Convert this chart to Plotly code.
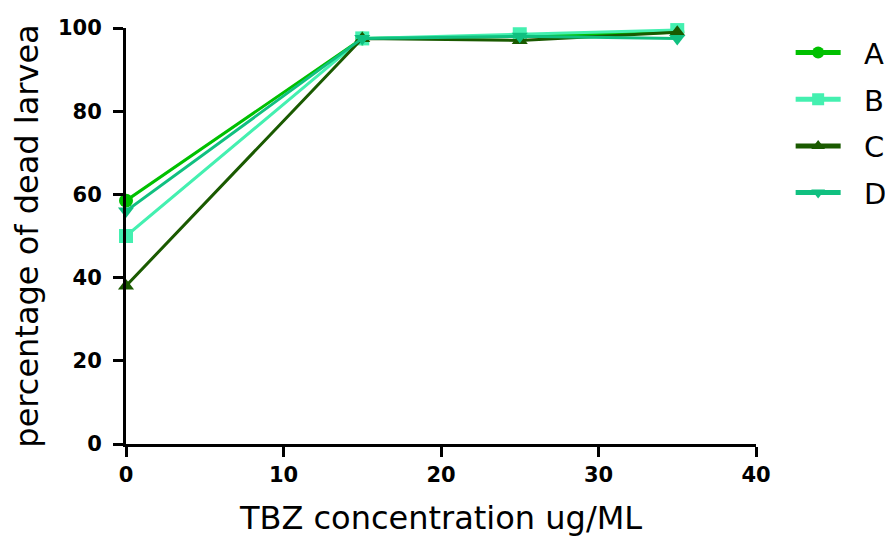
import plotly.graph_objects as go

x_vals = [0, 15, 25, 35]
series_names = ["A", "B", "C", "D"]
A = [58.5, 97.5, 98.0, 99.0]
B = [50.0, 97.5, 98.5, 99.5]
C = [38.0, 97.5, 97.0, 99.0]
D = [56.0, 97.5, 98.0, 97.5]
colors = ["#00c000", "#44f0b0", "#1a5a00", "#10c080"]
symbols = ["circle", "square", "triangle-up", "triangle-down"]

fig = go.Figure()
for name, ys, col, sym in zip(series_names, [A, B, C, D], colors, symbols):
    fig.add_trace(go.Scatter(
        x=x_vals, y=ys, name="\u00a0\u00a0" + name, mode="lines+markers", legendgroup=name,
        line=dict(color=col, width=3),
        marker=dict(symbol=sym, size=14, color=col),
        cliponaxis=False,
    ))

fig.update_layout(
    width=885, height=535,
    margin=dict(l=118, r=137, t=20, b=99, autoexpand=False),
    plot_bgcolor="white", paper_bgcolor="white",
    font=dict(family="DejaVu Sans", color="black"),
    legend=dict(x=1.055, y=1.002, xanchor="left", yanchor="top",
                font=dict(size=29), tracegroupgap=6, itemwidth=45,
                itemsizing="constant", bgcolor="rgba(0,0,0,0)"),
    showlegend=True,
)
fig.update_xaxes(
    range=[0, 40], tickvals=[0, 10, 20, 30, 40],
    showline=True, linecolor="black", linewidth=3,
    ticks="outside", ticklen=10, tickwidth=3, tickcolor="black",
    showgrid=False, zeroline=False,
    tickfont=dict(family="DejaVu Sans", size=21, weight="bold"),
    title=dict(text="TBZ concentration ug/ML", font=dict(size=32), standoff=21),
)
fig.update_yaxes(
    range=[0, 100], tickvals=[0, 20, 40, 60, 80, 100],
    showline=True, linecolor="black", linewidth=3,
    ticks="outside", ticklen=10, tickwidth=3, tickcolor="black",
    ticklabelstandoff=7,
    showgrid=False, zeroline=False,
    tickfont=dict(family="DejaVu Sans", size=21, weight="bold"),
    title=dict(text="percentage of dead larvea", font=dict(size=32), standoff=10),
)

fig.write_html("out.html")
